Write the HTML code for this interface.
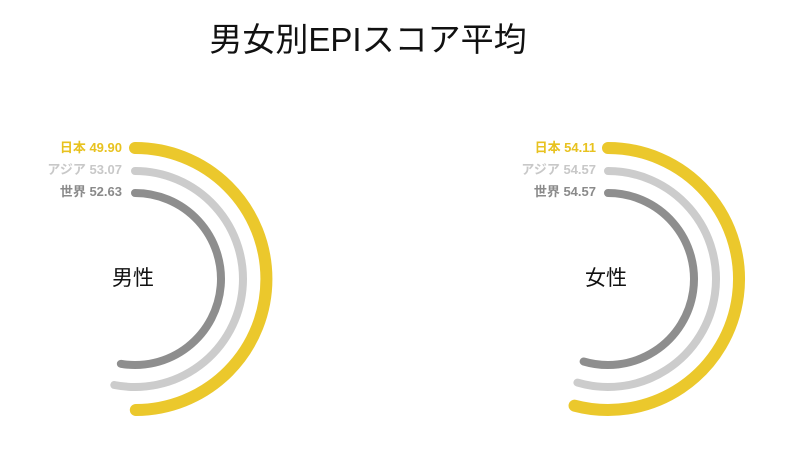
<!DOCTYPE html>
<html><head><meta charset="utf-8"><style>
html,body{margin:0;padding:0;background:#fff;width:796px;height:460px;overflow:hidden}
svg{display:block}
text{font-family:"Liberation Sans","Noto Sans CJK JP",sans-serif}
</style></head><body>
<svg width="796" height="460" viewBox="0 0 796 460">
<text x="368" y="51" font-size="33" text-anchor="middle" fill="#111">男女別EPIスコア平均</text>
<g fill="none" stroke-linecap="round">
<path d="M135 148 A131 131 0 0 1 135.82 410" stroke="#EBC82C" stroke-width="12"/>
<path d="M135 171 A108 108 0 1 1 114.3 385" stroke="#CCCCCC" stroke-width="8"/>
<path d="M135 193 A86 86 0 1 1 120.85 363.83" stroke="#8E8E8E" stroke-width="8"/>
<path d="M608 148 A131 131 0 1 1 574.54 405.65" stroke="#EBC82C" stroke-width="12"/>
<path d="M608 171 A108 108 0 1 1 577.42 382.58" stroke="#CCCCCC" stroke-width="8"/>
<path d="M608 193 A86 86 0 1 1 583.64 361.48" stroke="#8E8E8E" stroke-width="8"/>
</g>
<g font-size="13" font-weight="bold" text-anchor="end">
<text x="122" y="152" fill="#E8C21F">日本 49.90</text>
<text x="122" y="174" fill="#C8C8C8">アジア 53.07</text>
<text x="122" y="196" fill="#8A8A8A">世界 52.63</text>
<text x="596" y="152" fill="#E8C21F">日本 54.11</text>
<text x="596" y="174" fill="#C8C8C8">アジア 54.57</text>
<text x="596" y="196" fill="#8A8A8A">世界 54.57</text>
</g>
<text x="133" y="285" font-size="21" text-anchor="middle" fill="#111">男性</text>
<text x="606" y="285" font-size="21" text-anchor="middle" fill="#111">女性</text>
</svg>
</body></html>
